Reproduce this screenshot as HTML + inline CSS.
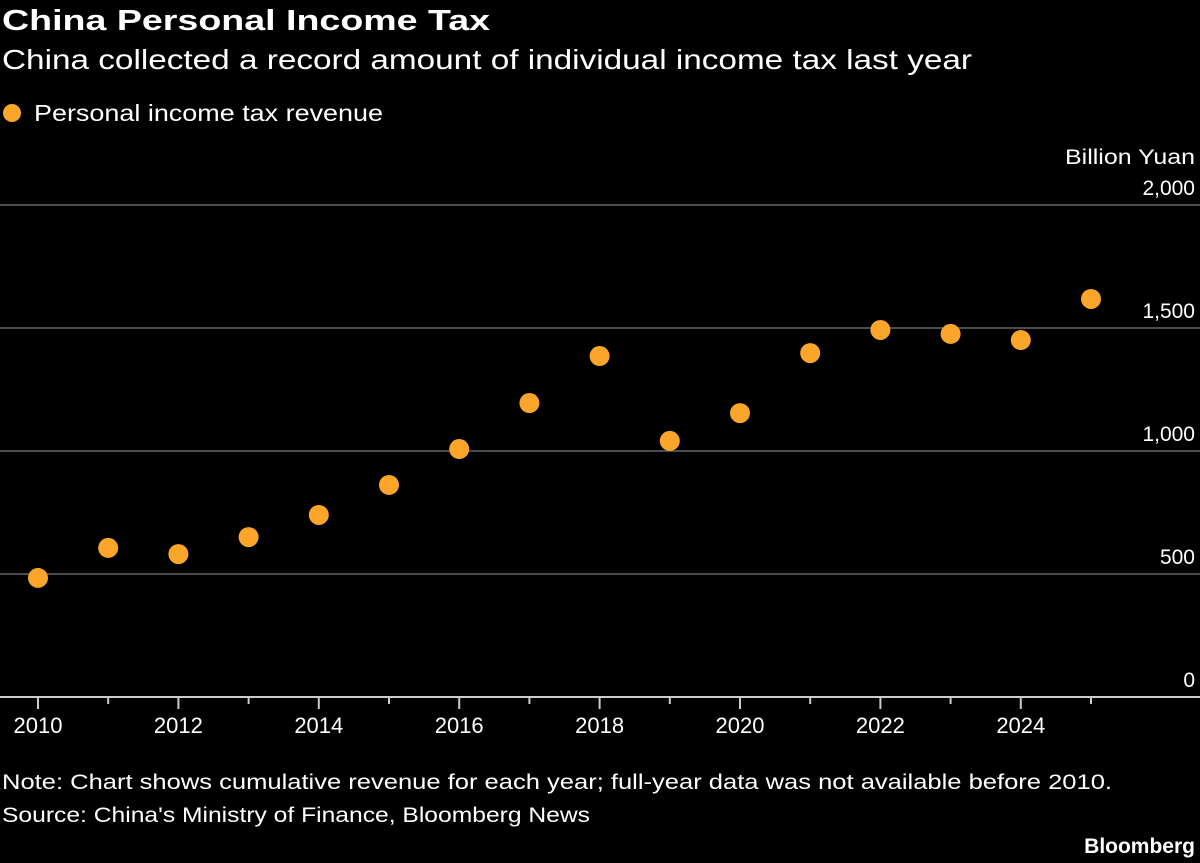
<!DOCTYPE html>
<html><head><meta charset="utf-8"><style>
body{margin:0;background:#000;width:1200px;height:863px;overflow:hidden;font-family:"Liberation Sans",sans-serif;color:#fff}
</style></head><body>
<svg width="1200" height="863" id="svg" style="position:absolute;left:0;top:0">
<text x="2" y="30" font-size="29" font-weight="bold" fill="#fff" textLength="488" lengthAdjust="spacingAndGlyphs">China Personal Income Tax</text>
<text x="2" y="69" font-size="28" fill="#fff" textLength="970" lengthAdjust="spacingAndGlyphs">China collected a record amount of individual income tax last year</text>
<circle cx="12" cy="113" r="9" fill="#fba52a"/>
<text x="34" y="121" font-size="23" fill="#fff" textLength="349" lengthAdjust="spacingAndGlyphs">Personal income tax revenue</text>
<text x="1195" y="164" font-size="21" fill="#fff" text-anchor="end" textLength="130" lengthAdjust="spacingAndGlyphs">Billion Yuan</text>
<g id="grid"></g><g id="xaxis"></g><g id="dots"></g>
<text x="2" y="789" font-size="21" fill="#fff" textLength="1110" lengthAdjust="spacingAndGlyphs">Note: Chart shows cumulative revenue for each year; full-year data was not available before 2010.</text>
<text x="2" y="822" font-size="21" fill="#fff" textLength="588" lengthAdjust="spacingAndGlyphs">Source: China's Ministry of Finance, Bloomberg News</text>
<text x="1195" y="853" font-size="21" font-weight="bold" fill="#fff" text-anchor="end">Bloomberg</text>
</svg>
<script>
const years=[2010,2011,2012,2013,2014,2015,2016,2017,2018,2019,2020,2021,2022,2023,2024,2025];
const values=[484,606,581,650,740,862,1008,1195,1386,1041,1154,1398,1492,1476,1451,1618];
const yTicks=[0,500,1000,1500,2000];
const yTickLabels=["0","500","1,000","1,500","2,000"];
const NS="http://www.w3.org/2000/svg";
const x=v=>38+(v-2010)*70.2;
const y=v=>697-v*0.246;
function mk(t,a,p){const e=document.createElementNS(NS,t);for(const k in a)e.setAttribute(k,a[k]);p.appendChild(e);return e;}
const grid=document.getElementById('grid');
yTicks.forEach((t,i)=>{
 if(t>0){const l=mk('line',{x1:0,x2:1200,y1:y(t),y2:y(t),stroke:'#666','stroke-width':1.5},grid);
 
 }
 const tx=mk('text',{x:1195,y:y(t)-10,'font-size':21,fill:'#fff','text-anchor':'end'},grid);
 tx.textContent=yTickLabels[i];
 
 
});
const xa=document.getElementById('xaxis');
const ax=mk('line',{x1:0,x2:1200,y1:697,y2:697,stroke:'#ccc','stroke-width':2},xa);


for(let yr=2010;yr<=2025;yr++){
 const major=yr%2===0;
 const tk=mk('line',{x1:x(yr),x2:x(yr),y1:697,y2:major?709:704,stroke:'#ccc','stroke-width':2},xa);
 
 
 if(major){const t=mk('text',{x:x(yr),y:733,'font-size':22,fill:'#fff','text-anchor':'middle'},xa);
 t.textContent=yr;
 
 }
}
const dots=document.getElementById('dots');
years.forEach((yr,i)=>{
 const c=mk('circle',{cx:x(yr),cy:y(values[i]),r:10,fill:'#fba52a'},dots);
 
 
});
</script>
</body></html>
